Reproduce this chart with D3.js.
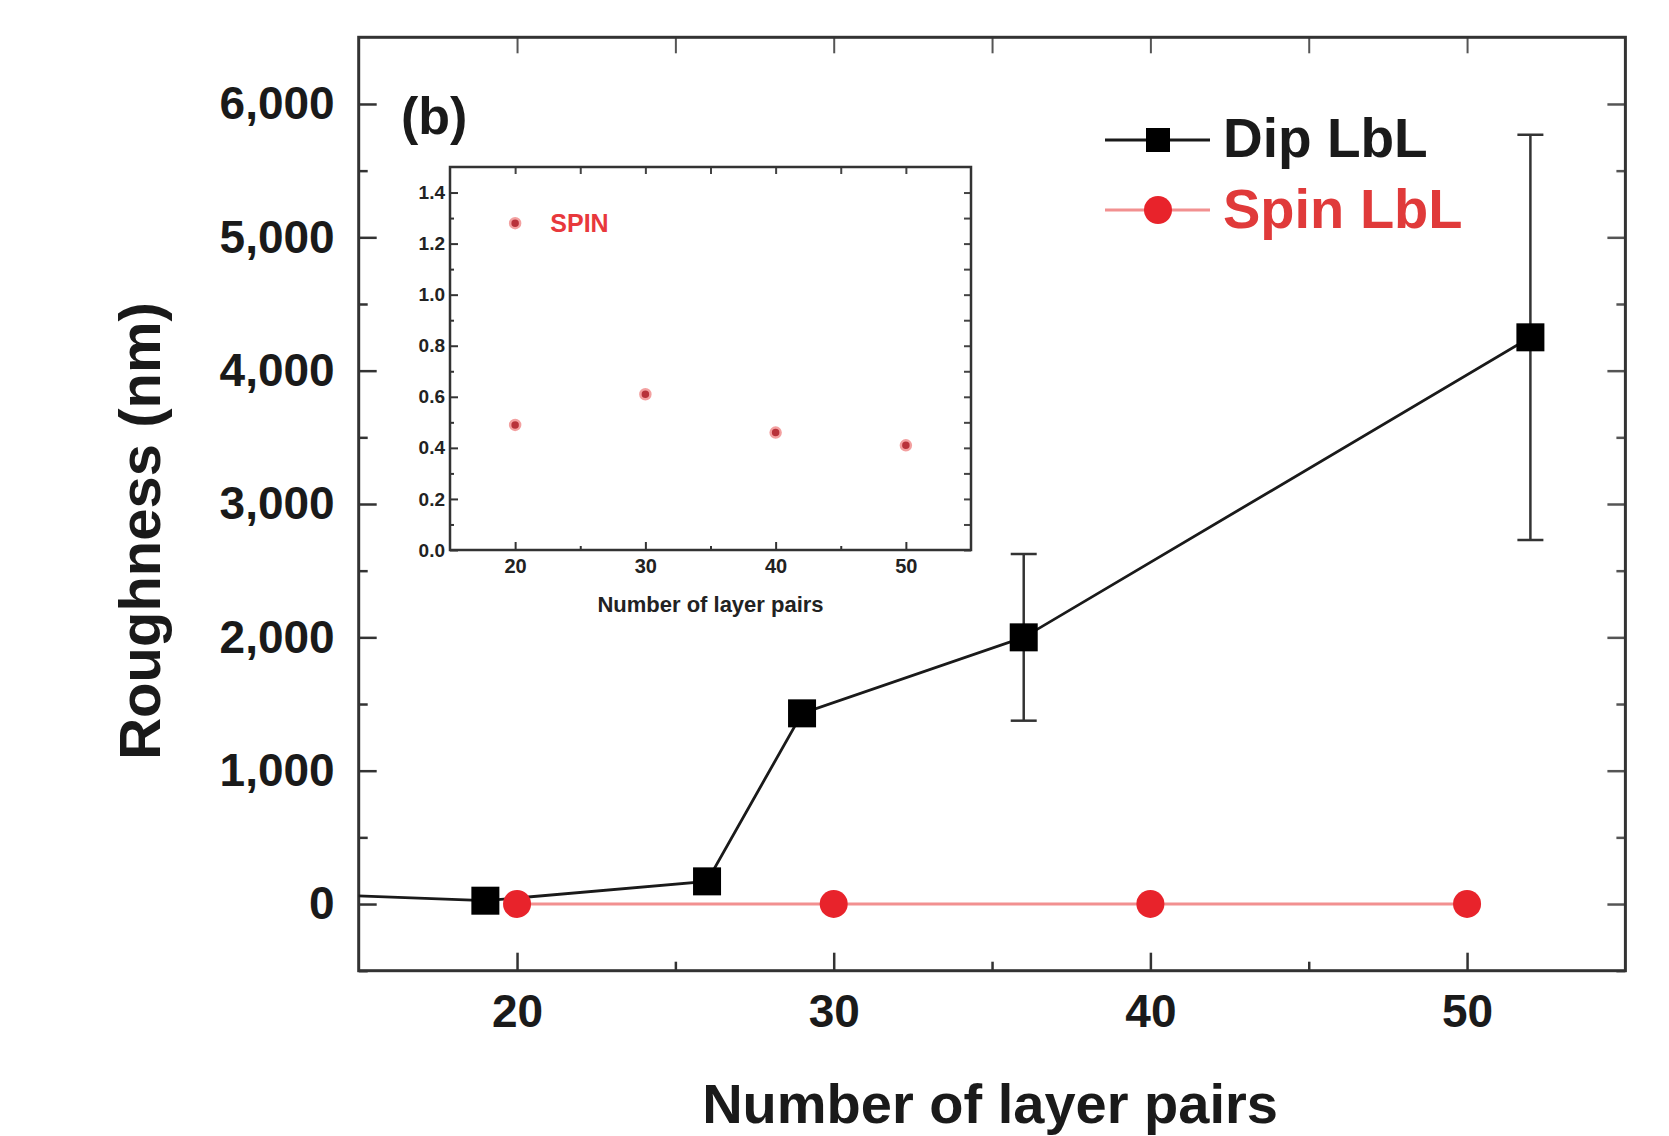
<!DOCTYPE html>
<html>
<head>
<meta charset="utf-8">
<script src="https://cdn.jsdelivr.net/npm/d3@7"></script>
<style>
  html, body { margin: 0; padding: 0; background: #fff; }
  svg { display: block; }
  text { font-family: "Liberation Sans", Arial, Helvetica, sans-serif; font-weight: bold; }
</style>
</head>
<body>
<script>
// ---------- data ----------
const dipX = [10, 19, 26, 29, 36, 52];
const dipY = [105, 25, 170, 1430, 2000, 4250];
const dipErr = [0, 0, 0, 0, 625, 1520];
const spinX = [20, 30, 40, 50];
const spinY = [0.49, 0.61, 0.46, 0.41];
const xTicks = [20, 30, 40, 50];
const xMinorTicks = [25, 35, 45];
const yTicks = [0, 1000, 2000, 3000, 4000, 5000, 6000];
const yMinorTicks = [-500, 500, 1500, 2500, 3500, 4500, 5500];
const insetYTicks = [0, 0.2, 0.4, 0.6, 0.8, 1.0, 1.2, 1.4];
const insetYMinor = [0.1, 0.3, 0.5, 0.7, 0.9, 1.1, 1.3];
const seriesNames = ["Dip LbL", "Spin LbL"];
const insetName = "SPIN";

const W = 1669, H = 1136;
const svg = d3.select("body").append("svg").attr("width", W).attr("height", H);

// ---------- main plot ----------
const L = 358.7, R = 1625.4, T = 37.3, B = 970.7;
const x = d3.scaleLinear().domain([15, 55]).range([L, R]);
const y = d3.scaleLinear().domain([-500, 6500]).range([B, T]);

svg.append("defs").append("clipPath").attr("id", "clipMain")
  .append("rect").attr("x", L).attr("y", T).attr("width", R - L).attr("height", B - T);

function styleAxis(g, color) {
  g.select(".domain").remove();
  g.selectAll(".tick line").attr("stroke", color);
}

// bottom axis
svg.append("g").attr("transform", `translate(0,${B})`)
  .call(d3.axisBottom(x).tickValues(xTicks).tickSize(-18).tickPadding(24))
  .call(g => { styleAxis(g, "#333"); g.selectAll(".tick line").attr("stroke-width", 2.5);
    g.selectAll("text").attr("font-size", 46).attr("fill", "#1a1a1a"); });
svg.append("g").attr("transform", `translate(0,${B})`)
  .call(d3.axisBottom(x).tickValues(xMinorTicks).tickSize(-9).tickFormat(""))
  .call(g => { styleAxis(g, "#333"); g.selectAll(".tick line").attr("stroke-width", 2.5); });
// top axis
svg.append("g").attr("transform", `translate(0,${T})`)
  .call(d3.axisTop(x).tickValues(xTicks.concat(xMinorTicks)).tickSize(-16).tickFormat(""))
  .call(g => { styleAxis(g, "#555"); g.selectAll(".tick line").attr("stroke-width", 2); });
// left axis
svg.append("g").attr("transform", `translate(${L},0)`)
  .call(d3.axisLeft(y).tickValues(yTicks).tickSize(-18).tickPadding(24).tickFormat(d3.format(",")))
  .call(g => { styleAxis(g, "#333"); g.selectAll(".tick line").attr("stroke-width", 2.5);
    g.selectAll("text").attr("font-size", 46).attr("fill", "#1a1a1a"); });
svg.append("g").attr("transform", `translate(${L},0)`)
  .call(d3.axisLeft(y).tickValues(yMinorTicks).tickSize(-9).tickFormat(""))
  .call(g => { styleAxis(g, "#333"); g.selectAll(".tick line").attr("stroke-width", 2.5); });
// right axis
svg.append("g").attr("transform", `translate(${R},0)`)
  .call(d3.axisRight(y).tickValues(yTicks).tickSize(-18).tickFormat(""))
  .call(g => { styleAxis(g, "#555"); g.selectAll(".tick line").attr("stroke-width", 2.5); });
svg.append("g").attr("transform", `translate(${R},0)`)
  .call(d3.axisRight(y).tickValues(yMinorTicks).tickSize(-9).tickFormat(""))
  .call(g => { styleAxis(g, "#555"); g.selectAll(".tick line").attr("stroke-width", 2.5); });

// frame
svg.append("rect").attr("x", L).attr("y", T).attr("width", R - L).attr("height", B - T)
  .attr("fill", "none").attr("stroke", "#333").attr("stroke-width", 3);

// axis titles
svg.append("text").attr("x", 990).attr("y", 1123).attr("text-anchor", "middle")
  .attr("font-size", 56).attr("fill", "#1a1a1a").text("Number of layer pairs");
svg.append("text").attr("transform", `translate(160,531) rotate(-90)`).attr("text-anchor", "middle")
  .attr("font-size", 58).attr("fill", "#1a1a1a").text("Roughness (nm)");
svg.append("text").attr("x", 401).attr("y", 134).attr("font-size", 52).attr("fill", "#1a1a1a").text("(b)");

// data layers
const plot = svg.append("g").attr("clip-path", "url(#clipMain)");
const dip = dipX.map((d, i) => ({ x: d, y: dipY[i], e: dipErr[i] }));
const spin = spinX.map((d, i) => ({ x: d, y: spinY[i] }));

plot.append("path").datum(spin)
  .attr("d", d3.line().x(d => x(d.x)).y(d => y(d.y)))
  .attr("fill", "none").attr("stroke", "#f29090").attr("stroke-width", 3);
plot.append("path").datum(dip)
  .attr("d", d3.line().x(d => x(d.x)).y(d => y(d.y)))
  .attr("fill", "none").attr("stroke", "#1a1a1a").attr("stroke-width", 2.8);

const eb = plot.append("g").selectAll("g").data(dip.filter(d => d.e > 0)).join("g")
  .attr("stroke", "#333").attr("stroke-width", 2.5);
eb.append("line").attr("x1", d => x(d.x)).attr("x2", d => x(d.x))
  .attr("y1", d => y(d.y + d.e)).attr("y2", d => y(d.y - d.e));
eb.append("line").attr("x1", d => x(d.x) - 13).attr("x2", d => x(d.x) + 13)
  .attr("y1", d => y(d.y + d.e)).attr("y2", d => y(d.y + d.e));
eb.append("line").attr("x1", d => x(d.x) - 13).attr("x2", d => x(d.x) + 13)
  .attr("y1", d => y(d.y - d.e)).attr("y2", d => y(d.y - d.e));

plot.append("g").selectAll("rect").data(dip).join("rect")
  .attr("x", d => x(d.x) - 14).attr("y", d => y(d.y) - 14)
  .attr("width", 28).attr("height", 28).attr("fill", "#000");
plot.append("g").selectAll("circle").data(spin).join("circle")
  .attr("cx", d => x(d.x)).attr("cy", d => y(d.y)).attr("r", 14).attr("fill", "#e8232b");

// legend
const lg = svg.append("g");
lg.append("line").attr("x1", 1105).attr("x2", 1210).attr("y1", 140).attr("y2", 140)
  .attr("stroke", "#1a1a1a").attr("stroke-width", 3);
lg.append("rect").attr("x", 1146).attr("y", 128).attr("width", 24).attr("height", 24).attr("fill", "#000");
lg.append("text").attr("x", 1223).attr("y", 157).attr("font-size", 55).attr("fill", "#1a1a1a").text(seriesNames[0]);
lg.append("line").attr("x1", 1105).attr("x2", 1210).attr("y1", 210).attr("y2", 210)
  .attr("stroke", "#f29090").attr("stroke-width", 3);
lg.append("circle").attr("cx", 1158).attr("cy", 210).attr("r", 14).attr("fill", "#e8232b");
lg.append("text").attr("x", 1223).attr("y", 228).attr("font-size", 56).attr("fill", "#e03a3a").text(seriesNames[1]);

// ---------- inset ----------
const iL = 450, iR = 971, iT = 167, iB = 550;
const ix = d3.scaleLinear().domain([15, 55]).range([iL, iR]);
const iy = d3.scaleLinear().domain([0, 1.5]).range([iB, iT]);
const inset = svg.append("g");
inset.append("rect").attr("x", iL).attr("y", iT).attr("width", iR - iL).attr("height", iB - iT).attr("fill", "#fff");

inset.append("g").attr("transform", `translate(0,${iB})`)
  .call(d3.axisBottom(ix).tickValues(xTicks).tickSize(-8).tickPadding(9))
  .call(g => { styleAxis(g, "#333"); g.selectAll(".tick line").attr("stroke-width", 2);
    g.selectAll("text").attr("font-size", 20).attr("fill", "#222"); });
inset.append("g").attr("transform", `translate(0,${iB})`)
  .call(d3.axisBottom(ix).tickValues(xMinorTicks).tickSize(-4).tickFormat(""))
  .call(g => { styleAxis(g, "#333"); g.selectAll(".tick line").attr("stroke-width", 2); });
inset.append("g").attr("transform", `translate(0,${iT})`)
  .call(d3.axisTop(ix).tickValues(xTicks.concat(xMinorTicks)).tickSize(-7).tickFormat(""))
  .call(g => { styleAxis(g, "#444"); g.selectAll(".tick line").attr("stroke-width", 2); });
inset.append("g").attr("transform", `translate(${iL},0)`)
  .call(d3.axisLeft(iy).tickValues(insetYTicks).tickSize(-8).tickPadding(5).tickFormat(d3.format(".1f")))
  .call(g => { styleAxis(g, "#333"); g.selectAll(".tick line").attr("stroke-width", 2);
    g.selectAll("text").attr("font-size", 19).attr("fill", "#222"); });
inset.append("g").attr("transform", `translate(${iL},0)`)
  .call(d3.axisLeft(iy).tickValues(insetYMinor).tickSize(-4).tickFormat(""))
  .call(g => { styleAxis(g, "#333"); g.selectAll(".tick line").attr("stroke-width", 2); });
inset.append("g").attr("transform", `translate(${iR},0)`)
  .call(d3.axisRight(iy).tickValues(insetYTicks.concat(insetYMinor)).tickSize(-7).tickFormat(""))
  .call(g => { styleAxis(g, "#444"); g.selectAll(".tick line").attr("stroke-width", 2); });
inset.append("rect").attr("x", iL).attr("y", iT).attr("width", iR - iL).attr("height", iB - iT)
  .attr("fill", "none").attr("stroke", "#333").attr("stroke-width", 2.5);

inset.append("g").selectAll("circle").data(spin).join("circle")
  .attr("cx", d => ix(d.x)).attr("cy", d => iy(d.y)).attr("r", 5)
  .attr("fill", "#b8323a").attr("stroke", "#f3a0a0").attr("stroke-width", 2.5);
inset.append("circle").attr("cx", ix(20)).attr("cy", iy(1.28)).attr("r", 5)
  .attr("fill", "#b8323a").attr("stroke", "#f3a0a0").attr("stroke-width", 2.5);
inset.append("text").attr("x", ix(22.7)).attr("y", iy(1.28) + 9).attr("font-size", 25)
  .attr("fill", "#e8383c").text(insetName);
inset.append("text").attr("x", (iL + iR) / 2).attr("y", 612).attr("text-anchor", "middle")
  .attr("font-size", 22).attr("fill", "#222").text("Number of layer pairs");
</script>
</body>
</html>
